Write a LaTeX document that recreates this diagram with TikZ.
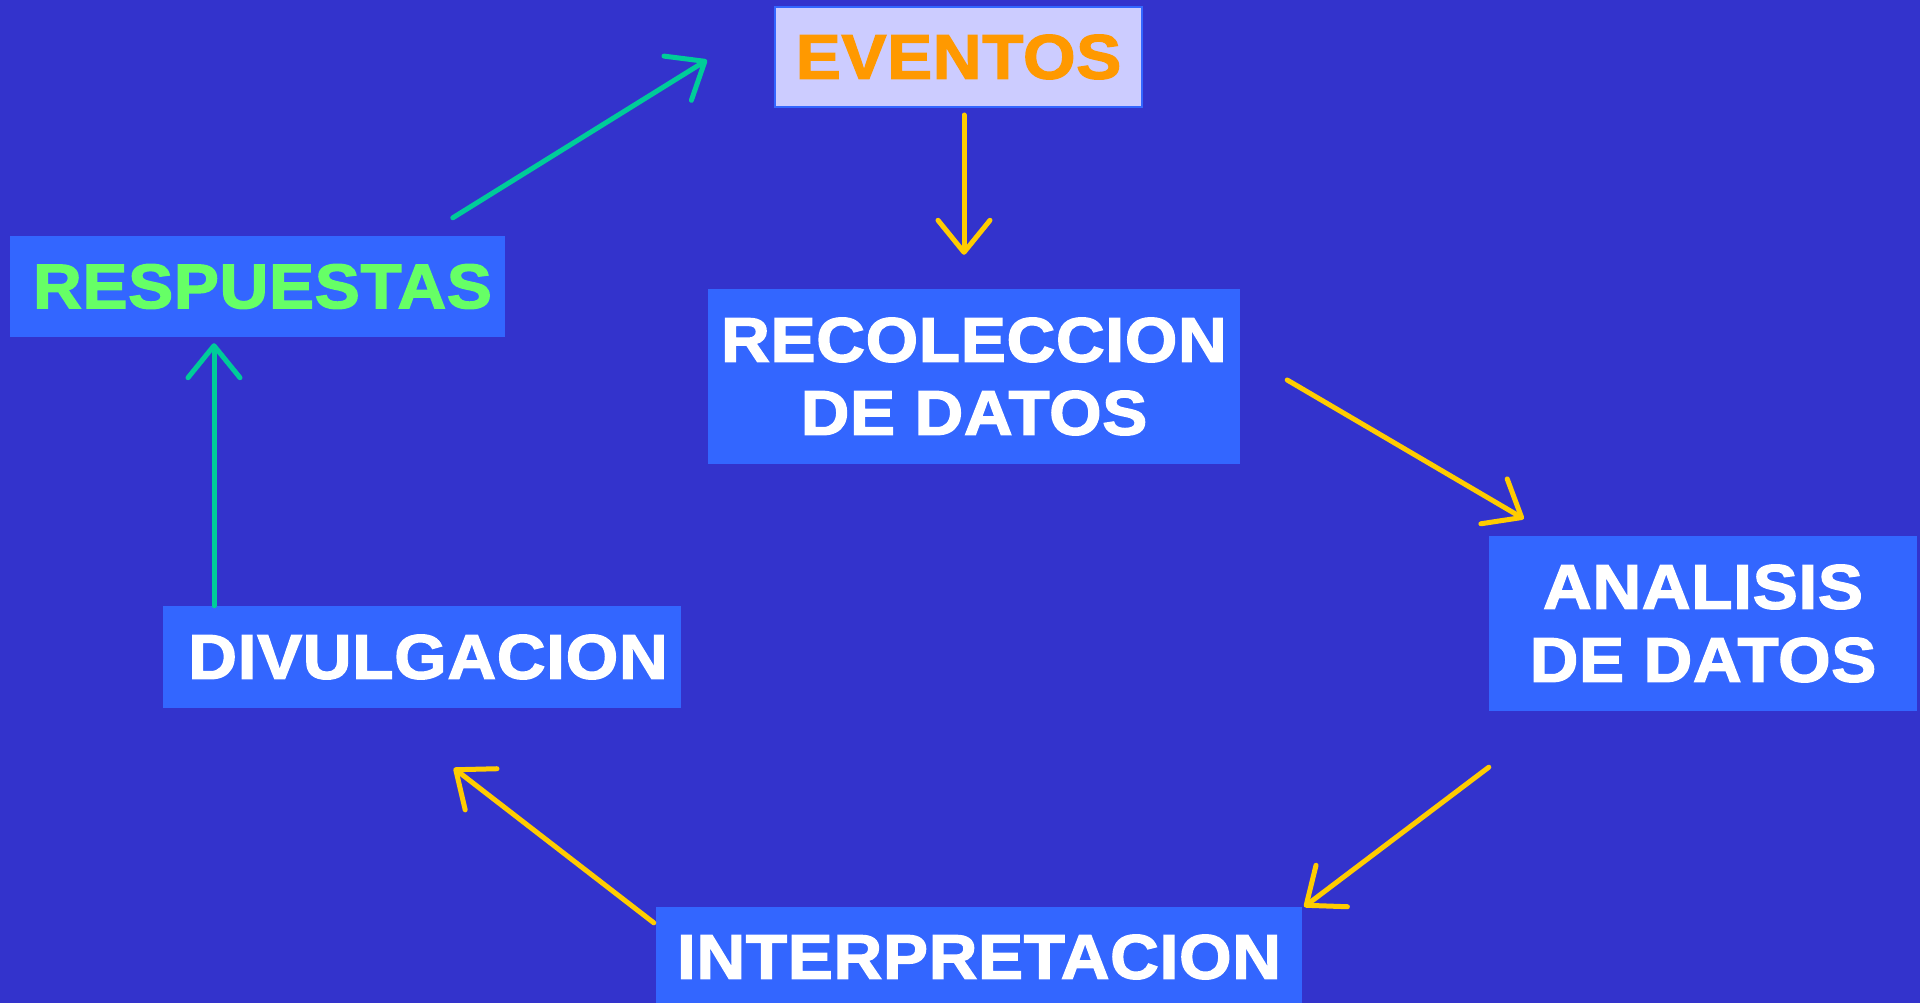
\documentclass[tikz,border=0pt]{standalone}
\usepackage{fontspec}
\setmainfont{Liberation Sans}
\newfontfamily\etapafont{Liberation Sans Bold}[FakeStretch=1.07, FakeBold=2.2, LetterSpace=1.2]
\usepackage{xcolor}
\usetikzlibrary{arrows.meta, positioning, calc}

\definecolor{fondo}{HTML}{3333CC}
\definecolor{caja}{HTML}{3366FF}
\definecolor{lila}{HTML}{CCCCFF}
\definecolor{naranja}{HTML}{FF9900}
\definecolor{verdetxt}{HTML}{66FF66}
\definecolor{amarillo}{HTML}{FFCC00}
\definecolor{turquesa}{HTML}{00CC99}

\tikzset{
  etapa/.style={rectangle, fill=caja, inner sep=0pt, align=center, text=white,
    font=\etapafont\fontsize{63}{73}\selectfont},
  flecha/.style={line width=5pt, line cap=round, amarillo,
    -{Straight Barb[length=32pt, width=52pt, line width=5pt, round]}},
  flechaverde/.style={flecha, turquesa}
}

\begin{document}
\begin{tikzpicture}[x=1pt, y=-1pt]
        \fill[fondo] (0,0) rectangle (1920,1003);
        \useasboundingbox (0,0) rectangle (1920,1003);
        \clip (0,0) rectangle (1920,1003);

        \node[etapa, fill=lila, draw=caja, line width=2pt, text=naranja, minimum width=367pt, minimum height=100pt] (eventos) at (958.5,57) {EVENTOS};
        \node[etapa, minimum width=532pt, minimum height=175pt] (recoleccion) at (974,376.5) {RECOLECCION\\DE DATOS};
        \node[etapa, minimum width=428pt, minimum height=175pt] (analisis) at (1703,623.5) {ANALISIS\\DE DATOS};
        \node[etapa, minimum width=646pt, minimum height=100pt] (interpretacion) at (979,957) {INTERPRETACION};
        \node[etapa, minimum width=518pt, minimum height=102pt] (divulgacion) at (422,657) {\hspace*{12pt}DIVULGACION};
        \node[etapa, text=verdetxt, minimum width=495pt, minimum height=101pt] (respuestas) at (257.5,286.5) {\hspace*{10pt}RESPUESTAS};

        % ciclo
        \draw[flecha, shorten <=7pt, shorten >=34pt] ([xshift=5.5]eventos.south) -- ([xshift=5.5]eventos.south |- recoleccion.north);
        \draw[flecha] ([shift={(47,3.5)}]recoleccion.east) -- ([shift={(35,-17)}]analisis.north west);
        \draw[flecha] ([shift={(0,56)}]analisis.south west) -- ([shift={(2,0)}]interpretacion.north east);
        \draw[flecha] ([shift={(-2,16)}]interpretacion.north west) -- ([shift={(291,60)}]divulgacion.south west);
        % vuelta
        \draw[flechaverde] ([xshift=-208]divulgacion.north) -- ([shift={(-43.5,6)}]respuestas.south);
        \draw[flechaverde] ([shift={(443,-18)}]respuestas.north west) -- ([shift={(-67,3)}]eventos.west);
    \end{tikzpicture}
\end{document}
